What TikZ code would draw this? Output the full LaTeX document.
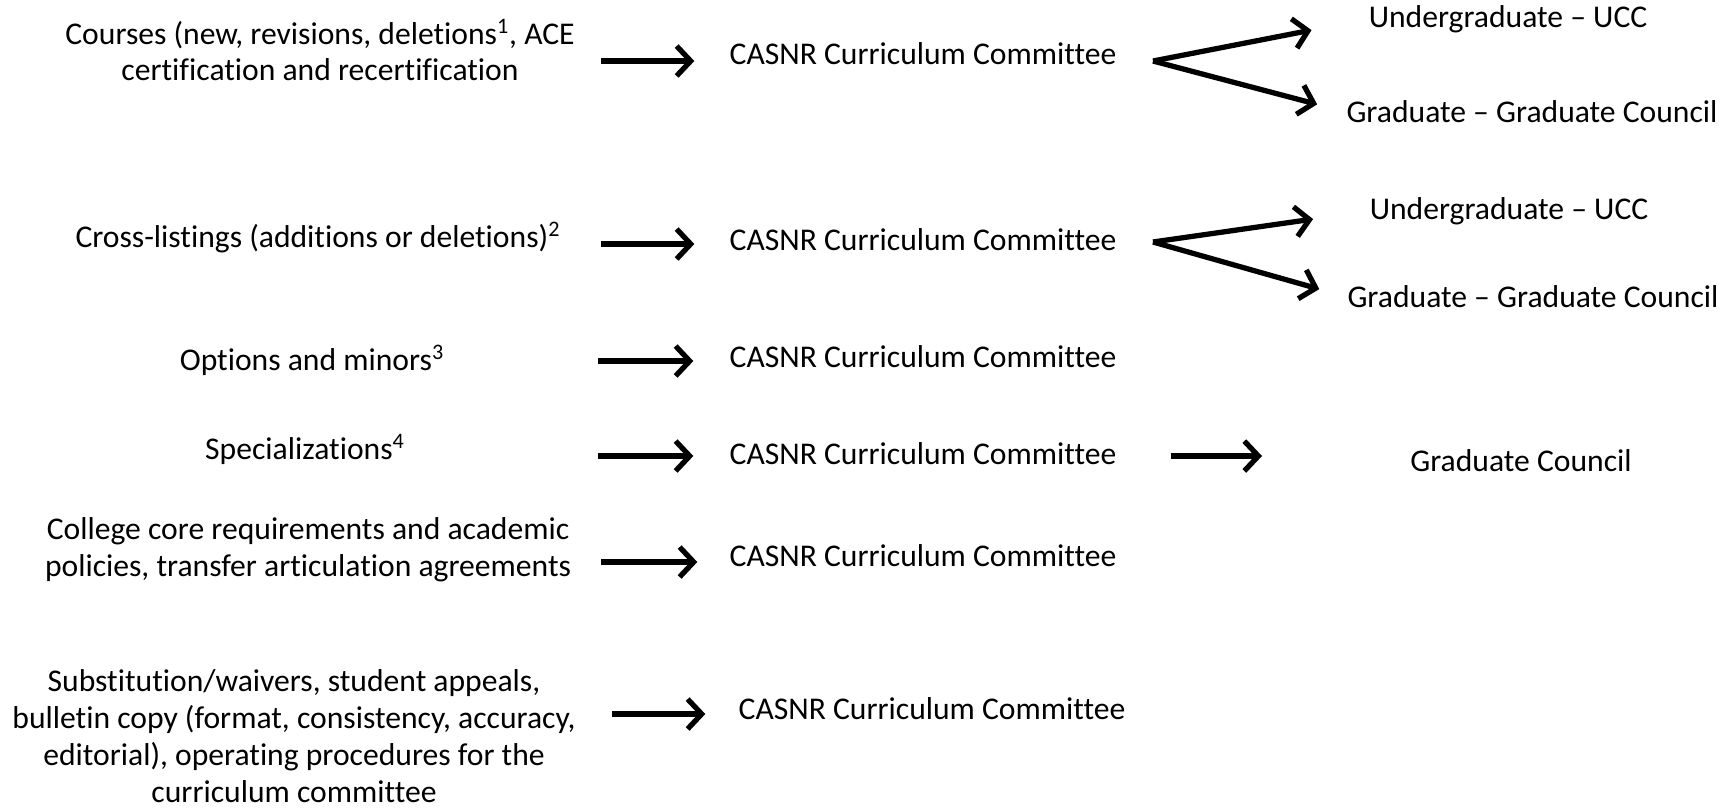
\documentclass[tikz,border=0pt]{standalone}
\usepackage{fontspec}
\setmainfont[Ligatures=NoCommon]{Carlito}
\usepackage{tikz}
\usetikzlibrary{arrows.meta}

\begin{document}
\begin{tikzpicture}[x=0.02cm,y=-0.02cm,
  txt/.style={inner sep=0pt,align=center,font=\fontsize{18}{21}\selectfont},
  arr/.style={line width=3pt,-{Straight Barb[length=8pt,width=17pt]}}]
\useasboundingbox (0,0) rectangle (1733,809);

\node[txt] (src1) at (320,50) {Courses (new, revisions, deletions\textsuperscript{1}, ACE\\certification and recertification};
\node[txt] (src2) at (318,238) {Cross-listings (additions or deletions)\textsuperscript{2}};
\node[txt] (src3) at (312,360) {Options and minors\textsuperscript{3}};
\node[txt] (src4) at (305,449) {Specializations\textsuperscript{4}};
\node[txt] (src5) at (308,550) {College core requirements and academic\\policies, transfer articulation agreements};
\node[txt] (src6) at (294,736) {Substitution/waivers, student appeals,\\bulletin copy (format, consistency, accuracy,\\editorial), operating procedures for the\\curriculum committee};

\node[txt] (cas1) at (923,54) {CASNR Curriculum Committee};
\node[txt] (cas2) at (923,240) {CASNR Curriculum Committee};
\node[txt] (cas3) at (923,357) {CASNR Curriculum Committee};
\node[txt] (cas4) at (923,454) {CASNR Curriculum Committee};
\node[txt] (cas5) at (923,556) {CASNR Curriculum Committee};
\node[txt] (cas6) at (932,709) {CASNR Curriculum Committee};

\node[txt] (ug1) at (1508,19) {Undergraduate -- UCC};
\node[txt] (gr1) at (1532,112) {Graduate -- Graduate Council};
\node[txt] (ug2) at (1509,211) {Undergraduate -- UCC};
\node[txt] (gr2) at (1533,297) {Graduate -- Graduate Council};
\node[txt] (gc4) at (1521,461) {Graduate Council};

\coordinate (t1) at (601,61);
\coordinate (t2) at (601,244);
\coordinate (t3) at (598,361);
\coordinate (t4) at (598,456);
\coordinate (t5) at (601,562);
\coordinate (t6) at (612,714);
\coordinate (f1) at (1153,61);
\coordinate (f2) at (1153,242);

\draw[arr,shorten >=0.7cm] (t1) -- (cas1.west |- t1);
\draw[arr,shorten >=0.7cm] (t2) -- (cas2.west |- t2);
\draw[arr,shorten >=0.72cm] (t3) -- (cas3.west |- t3);
\draw[arr,shorten >=0.72cm] (t4) -- (cas4.west |- t4);
\draw[arr,shorten >=0.64cm] (t5) -- (cas5.west |- t5);
\draw[arr,shorten >=0.66cm] (t6) -- (cas6.west |- t6);

\draw[arr,shorten >=1.16cm] (f1) -- (ug1.west);
\draw[arr,shorten >=0.6cm] (f1) -- (gr1.west);
\draw[arr,shorten >=1.14cm] (f2) -- (ug2.west);
\draw[arr,shorten >=0.58cm] (f2) -- (gr2.west);
\draw[arr,shorten <=1.08cm,shorten >=2.96cm] (cas4.east |- t4) -- (gc4.west |- t4);
\end{tikzpicture}
\end{document}
